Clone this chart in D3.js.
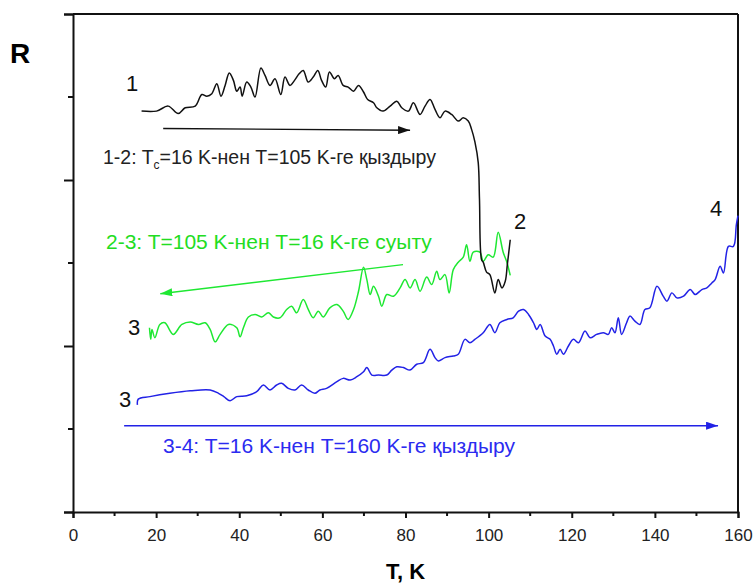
<!DOCTYPE html>
<html>
<head>
<meta charset="utf-8">
<script src="https://cdn.jsdelivr.net/npm/d3@7"></script>
<style>
  body { margin: 0; background: #fff; }
  svg text { font-family: "Liberation Sans", Arial, sans-serif; }
</style>
</head>
<body>
<div id="viz"></div>
<script>
// heating 1 -> 2 (black), [T, R]
const heat12 = [
  [16.5,4.83],[20.1,4.83],[22.9,4.89],[25.3,4.80],[27.0,4.87],[29.4,4.89],[31.0,5.03],[32.2,5.01],
  [33.4,5.04],[34.6,5.16],[35.6,5.01],[36.6,5.14],[37.6,5.29],[38.6,5.20],[39.4,5.07],[40.2,5.12],
  [40.7,5.01],[41.8,5.18],[42.8,5.12],[43.8,5.00],[45.2,5.35],[46.2,5.26],[47.4,5.14],[48.6,5.22],
  [50.0,5.03],[51.0,5.24],[52.2,5.14],[53.3,5.20],[54.4,5.28],[55.4,5.32],[56.6,5.18],[57.8,5.24],
  [58.9,5.32],[59.8,5.20],[60.8,5.12],[61.7,5.30],[62.9,5.22],[63.8,5.26],[65.0,5.14],[66.2,5.12],
  [67.5,5.07],[68.7,5.14],[69.9,5.06],[70.9,4.97],[72.3,4.93],[73.1,4.87],[74.6,4.83],[76.3,4.89],
  [77.9,4.95],[79.1,4.87],[80.7,4.83],[81.9,4.93],[83.5,4.79],[84.7,4.89],[85.9,4.97],[87.1,4.85],
  [88.3,4.75],[89.5,4.83],[91.1,4.79],[92.7,4.71],[93.9,4.75],[95.1,4.71],[95.9,4.61],[96.7,4.46],
  [97.5,4.21],[97.8,3.77],[98.3,3.04],[98.7,3.01],[99.5,2.89],[100.3,2.86],[101.5,2.64],[102.3,2.80],
  [103.2,2.70],[104.0,2.78],[104.5,2.98],[105.2,3.28]
];

// cooling 2 -> 3 (green)
const cool23 = [
  [18.4,2.22],[18.7,2.08],[19.0,2.20],[19.7,2.10],[20.9,2.26],[22.1,2.28],[24.1,2.14],[26.2,2.26],
  [28.2,2.29],[30.2,2.26],[31.8,2.28],[33.0,2.20],[34.2,2.05],[35.4,2.14],[37.4,2.26],[39.4,2.22],
  [40.2,2.11],[41.0,2.22],[42.2,2.35],[43.8,2.38],[45.4,2.35],[47.0,2.40],[48.2,2.35],[49.8,2.34],
  [51.4,2.44],[52.6,2.48],[53.8,2.40],[55.4,2.56],[56.6,2.44],[57.8,2.34],[59.0,2.42],[60.2,2.35],
  [61.8,2.46],[63.5,2.50],[65.0,2.42],[66.2,2.32],[67.5,2.44],[68.7,2.66],[69.9,2.95],[70.7,2.80],
  [71.5,2.62],[72.3,2.72],[73.5,2.60],[74.3,2.48],[75.5,2.62],[77.1,2.60],[78.7,2.70],[79.9,2.80],
  [81.1,2.70],[82.3,2.80],[83.5,2.66],[85.1,2.83],[86.3,2.74],[87.5,2.90],[88.3,2.80],[89.5,2.86],
  [90.5,2.64],[91.5,2.92],[92.7,3.01],[93.9,3.07],[94.7,3.22],[95.5,3.02],[96.3,3.13],[97.9,3.13],
  [98.7,3.02],[99.9,3.10],[101.1,3.07],[102.3,3.37],[103.5,3.13],[104.4,3.01],[105.2,2.85]
];

// heating 3 -> 4 (blue)
const heat34 = [
  [15.5,1.29],[15.7,1.36],[18.5,1.39],[23.3,1.43],[28.2,1.46],[33.0,1.47],[35.0,1.43],[36.3,1.39],
  [37.8,1.34],[39.4,1.39],[41.8,1.40],[44.2,1.45],[45.8,1.53],[47.4,1.47],[49.0,1.53],[50.2,1.55],
  [51.8,1.49],[53.4,1.47],[55.0,1.53],[56.6,1.47],[58.2,1.43],[59.4,1.47],[61.0,1.49],[63.5,1.57],
  [65.0,1.61],[66.7,1.59],[68.3,1.63],[69.9,1.69],[70.7,1.74],[71.9,1.65],[73.5,1.65],[75.5,1.65],
  [76.7,1.71],[77.9,1.75],[79.5,1.74],[81.1,1.71],[82.7,1.78],[84.3,1.80],[85.9,1.96],[87.1,1.86],
  [87.9,1.82],[89.5,1.86],[91.5,1.88],[92.7,1.90],[94.3,2.08],[95.5,2.04],[96.7,2.08],[98.7,2.16],
  [100.3,2.26],[101.5,2.16],[102.7,2.28],[104.4,2.32],[105.9,2.34],[107.2,2.42],[108.4,2.44],[109.6,2.38],
  [110.8,2.28],[111.6,2.20],[112.4,2.26],[113.6,2.12],[114.8,2.08],[115.6,2.00],[116.4,1.90],[117.2,1.96],
  [118.0,1.90],[119.2,2.00],[120.4,2.08],[121.6,2.04],[123.2,2.18],[124.4,2.10],[126.0,2.14],[127.6,2.16],
  [128.8,2.14],[129.6,2.22],[130.4,2.16],[131.2,2.34],[132.0,2.14],[133.2,2.28],[134.0,2.36],[135.2,2.30],
  [136.4,2.26],[137.6,2.44],[138.8,2.46],[140.5,2.72],[142.0,2.60],[142.9,2.54],[144.1,2.64],[145.3,2.58],
  [146.9,2.60],[148.5,2.68],[149.7,2.62],[151.3,2.68],[152.5,2.70],[153.7,2.76],[154.5,2.80],[155.7,2.96],
  [156.5,2.88],[157.7,3.20],[158.9,3.20],[159.6,3.46],[160.0,3.57]
];

const xTicks = [0, 20, 40, 60, 80, 100, 120, 140, 160];
const xMinor = [10, 30, 50, 70, 90, 110, 130, 150];
const yMajor = [0, 2, 4, 6];
const yMinor = [1, 3, 5];

// arrows: [T1, R1, T2, R2] (from -> to)
const arrow12 = [21.7, 4.62, 81.1, 4.60];
const arrow23 = [79.4, 2.98, 21.0, 2.63];
const arrow34 = [12.3, 1.04, 155.2, 1.04];

const W = 756, H = 583;
const m = { left: 73, right: 18, top: 14, bottom: 71 };

const svg = d3.select("#viz").append("svg")
  .attr("width", W).attr("height", H);

const x = d3.scaleLinear().domain([0, 160]).range([m.left, W - m.right]);
const y = d3.scaleLinear().domain([0, 6]).range([H - m.bottom, m.top]);

// frame top/right
svg.append("line").attr("x1", x(0)).attr("x2", x(160)).attr("y1", y(6)).attr("y2", y(6))
  .attr("stroke", "#111").attr("stroke-width", 2);
svg.append("line").attr("x1", x(160)).attr("x2", x(160)).attr("y1", y(6)).attr("y2", y(0))
  .attr("stroke", "#111").attr("stroke-width", 2);

// x axis
const gx = svg.append("g").attr("transform", `translate(0,${y(0)})`);
gx.call(d3.axisBottom(x).tickValues(xTicks).tickSize(6).tickPadding(11).tickFormat(d3.format("d")));
xMinor.forEach(v => {
  gx.append("line").attr("x1", x(v)).attr("x2", x(v)).attr("y1", 0).attr("y2", 4)
    .attr("stroke", "#111").attr("stroke-width", 2);
});

// y axis (no labels)
const gy = svg.append("g").attr("transform", `translate(${x(0)},0)`);
gy.call(d3.axisLeft(y).tickValues(yMajor).tickSize(9).tickFormat(""));
yMinor.forEach(v => {
  gy.append("line").attr("x1", 0).attr("x2", -5).attr("y1", y(v)).attr("y2", y(v))
    .attr("stroke", "#111").attr("stroke-width", 2);
});

[gx, gy].forEach(g => {
  g.select(".domain").attr("stroke", "#111").attr("stroke-width", 2);
  g.selectAll(".tick line").attr("stroke", "#111").attr("stroke-width", 2);
});
gx.selectAll(".tick text").attr("font-size", 17).attr("fill", "#222")
  .style("font-family", "Liberation Sans, Arial, sans-serif");

// axis titles
svg.append("text").attr("x", 10).attr("y", 63).attr("font-size", 28).attr("font-weight", "bold")
  .text("R");
svg.append("text").attr("x", x(80)).attr("y", 579).attr("text-anchor", "middle")
  .attr("font-size", 22).attr("font-weight", "bold").text("T, K");

// curves
const line = d3.line().x(d => x(d[0])).y(d => y(d[1])).curve(d3.curveCatmullRom.alpha(0.5));
const curves = [
  { data: cool23, color: "#1ee832" },
  { data: heat34, color: "#2222e6" },
  { data: heat12, color: "#111" }
];
curves.forEach(c => {
  svg.append("path").datum(c.data).attr("d", line)
    .attr("fill", "none").attr("stroke", c.color).attr("stroke-width", 1.5)
    .attr("stroke-linejoin", "round");
});

// arrows
const defs = svg.append("defs");
function marker(id, color) {
  defs.append("marker").attr("id", id).attr("viewBox", "0 0 12 8")
    .attr("refX", 12).attr("refY", 4).attr("markerWidth", 12).attr("markerHeight", 8)
    .attr("markerUnits", "userSpaceOnUse").attr("orient", "auto")
    .append("path").attr("d", "M0,0 L12,4 L0,8 Z").attr("fill", color);
}
marker("ahBlack", "#111");
marker("ahGreen", "#1ee832");
marker("ahBlue", "#2222e6");
[[arrow12, "#111", "ahBlack"], [arrow23, "#1ee832", "ahGreen"], [arrow34, "#2222e6", "ahBlue"]]
  .forEach(([a, col, id]) => {
    svg.append("line").attr("x1", x(a[0])).attr("y1", y(a[1])).attr("x2", x(a[2])).attr("y2", y(a[3]))
      .attr("stroke", col).attr("stroke-width", 1.4).attr("marker-end", `url(#${id})`);
  });

// labels
const lab = (t, px, py, col, fs) => svg.append("text").attr("x", px).attr("y", py)
  .attr("fill", col).attr("font-size", fs).text(t);
lab("1", 126, 91, "#111", 22);
lab("2", 514, 229, "#111", 22);
lab("3", 128, 335, "#111", 22);
lab("3", 119, 407, "#111", 22);
lab("4", 710, 216, "#111", 22);

const t12 = svg.append("text").attr("x", 103).attr("y", 164).attr("fill", "#222").attr("font-size", 19.5);
t12.append("tspan").text("1-2: T");
t12.append("tspan").attr("font-size", 12).attr("dy", 5).text("c");
t12.append("tspan").attr("dy", -5).text("=16 K-нен T=105 K-ге қыздыру");

lab("2-3: T=105 K-нен T=16 K-ге суыту", 106, 249, "#22dd22", 21);
lab("3-4: T=16 K-нен T=160 K-ге қыздыру", 163, 453, "#2b2bf0", 21);
</script>
</body>
</html>
